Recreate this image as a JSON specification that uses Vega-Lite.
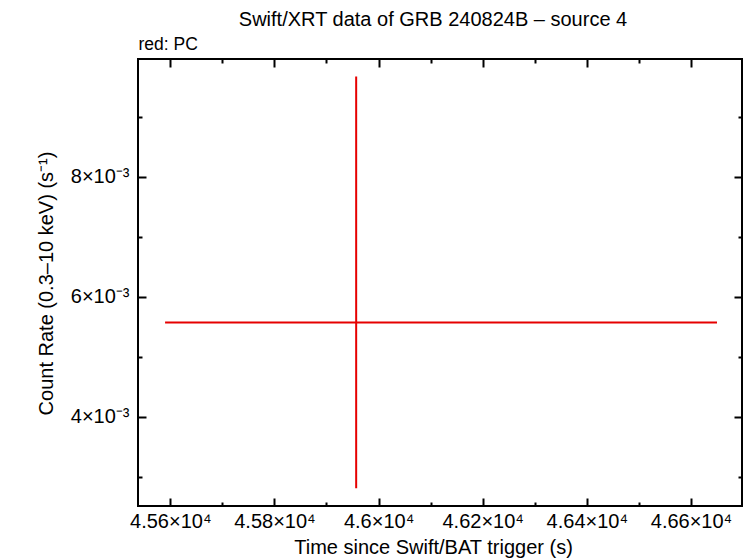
{
  "$schema": "https://vega.github.io/schema/vega-lite/v6.json",
  "width": 604,
  "height": 447,
  "autosize": {"type": "none"},
  "padding": {"left": 138, "top": 59, "right": 4, "bottom": 52},
  "background": "white",
  "title": {
    "text": "Swift/XRT data of GRB 240824B – source 4",
    "font": "Liberation Sans",
    "fontSize": 20,
    "fontWeight": "normal",
    "color": "black",
    "anchor": "middle",
    "dx": -7,
    "offset": 5
  },
  "data": {
    "values": [
      {"time": 45957, "time_lo": 45590, "time_hi": 46650, "rate": 0.00557, "rate_lo": 0.002807, "rate_hi": 0.009667}
    ]
  },
  "config": {
    "view": {"stroke": "black", "strokeWidth": 2},
    "axis": {
      "domain": false,
      "grid": false,
      "labelFont": "Liberation Sans",
      "labelFontSize": 20,
      "labelColor": "black",
      "labelOverlap": false,
      "labelFlush": false,
      "titleFont": "Liberation Sans",
      "titleFontSize": 20,
      "titleFontWeight": "normal",
      "titleColor": "black",
      "tickColor": "black",
      "tickWidth": 2
    }
  },
  "layer": [
    {
      "mark": {"type": "rule", "color": "#e60000", "strokeWidth": 2},
      "encoding": {
        "x": {
          "field": "time_lo",
          "type": "quantitative",
          "scale": {"domain": [45538, 46698], "nice": false, "zero": false},
          "axis": {
            "orient": "bottom",
            "values": [45600, 45700, 45800, 45900, 46000, 46100, 46200, 46300, 46400, 46500, 46600],
            "tickSize": {"condition": {"test": "datum.value % 200 === 0", "value": -8}, "value": -4},
            "labelExpr": "datum.value % 200 === 0 ? format(datum.value / 10000, '.3~f') + '×10⁴' : ''",
            "labelPadding": 13,
            "title": "Time since Swift/BAT trigger (s)",
            "titleX": 295,
            "titleY": 47,
            "titleBaseline": "alphabetic"
          }
        },
        "x2": {"field": "time_hi"},
        "y": {
          "field": "rate",
          "type": "quantitative",
          "scale": {"domain": [0.00251, 0.00996], "nice": false, "zero": false},
          "axis": {
            "orient": "left",
            "values": [0.003, 0.004, 0.005, 0.006, 0.007, 0.008, 0.009],
            "tickSize": {"condition": {"test": "round(datum.value * 1000) % 2 === 0", "value": -8}, "value": -4},
            "labelExpr": "round(datum.value * 1000) % 2 === 0 ? round(datum.value * 1000) + '×10⁻³' : ''",
            "labelPadding": 17,
            "title": "Count Rate (0.3–10 keV) (s⁻¹)",
            "titleX": -86,
            "titleY": 224,
            "titleBaseline": "alphabetic"
          }
        }
      }
    },
    {
      "mark": {"type": "rule", "color": "#e60000", "strokeWidth": 2},
      "encoding": {
        "x": {
          "field": "time",
          "type": "quantitative",
          "axis": {
            "orient": "top",
            "values": [45600, 45700, 45800, 45900, 46000, 46100, 46200, 46300, 46400, 46500, 46600],
            "tickSize": {"condition": {"test": "datum.value % 200 === 0", "value": -8}, "value": -4},
            "labels": false,
            "title": "red: PC",
            "titleFontSize": 17.5,
            "titleAnchor": "start",
            "titleAlign": "left",
            "titleX": 0,
            "titleY": -10,
            "titleBaseline": "alphabetic"
          }
        },
        "y": {
          "field": "rate_lo",
          "type": "quantitative",
          "axis": {
            "orient": "right",
            "values": [0.003, 0.004, 0.005, 0.006, 0.007, 0.008, 0.009],
            "tickSize": {"condition": {"test": "round(datum.value * 1000) % 2 === 0", "value": -8}, "value": -4},
            "labels": false,
            "title": null
          }
        },
        "y2": {"field": "rate_hi"}
      }
    }
  ],
  "resolve": {"axis": {"x": "independent", "y": "independent"}}
}
